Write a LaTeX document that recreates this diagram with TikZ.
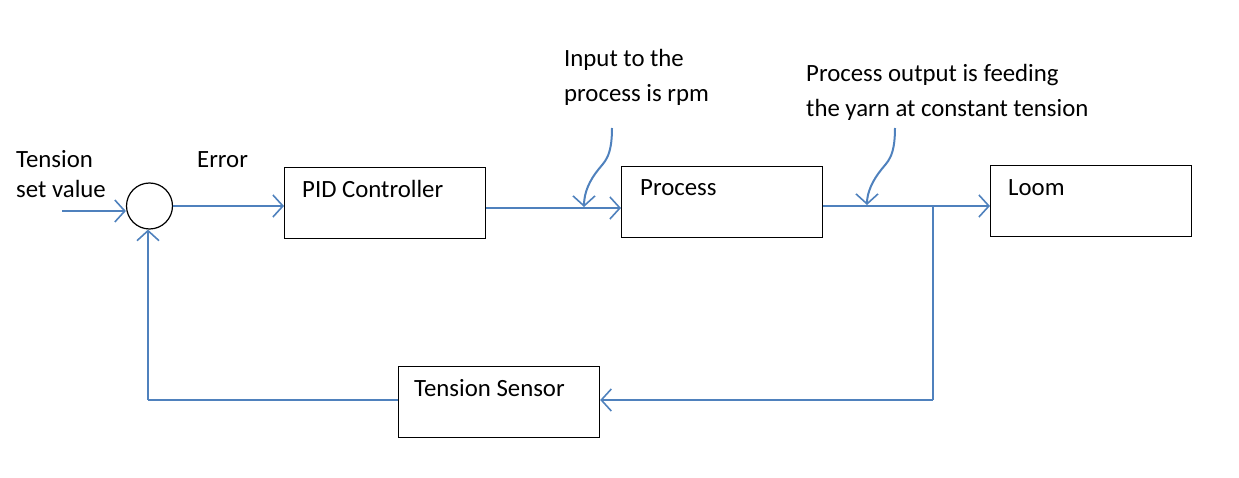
\documentclass[tikz,border=0pt]{standalone}
\usepackage{fontspec}
\setmainfont{Carlito}
\usetikzlibrary{arrows.meta}
\definecolor{lineblue}{HTML}{4F81BD}
\tikzset{
  blk/.style={draw=black, line width=1.2pt, minimum width=201pt, minimum height=71pt, inner sep=0pt},
  flow/.style={draw=lineblue, line width=2pt, -{Straight Barb[length=10pt,width=22pt,line width=1.6pt]}},
  plain/.style={draw=lineblue, line width=2pt},
  lbl/.style={anchor=base west, inner sep=0pt, font=\fontsize{24.8}{29}\selectfont},
}
\begin{document}
\begin{tikzpicture}[x=1pt,y=-1pt]
\useasboundingbox (0,0) rectangle (1239,478);
% blocks
\node[blk, anchor=north west] (pid) at (284,167) {};
\node[blk, anchor=north west] (proc) at (621,166) {};
\node[blk, anchor=north west] (loom) at (990,165) {};
\node[blk, anchor=north west] (sens) at (398,366) {};
\node[draw=black, line width=1.2pt, circle, minimum size=46pt, inner sep=0pt] (sum) at (149.5,206) {};
% block texts
\node[lbl] (tpid) at (302,198) {PID Controller};
\node[lbl] (tproc) at (640,196) {Process};
\node[lbl] (tloom) at (1008,196) {Loom};
\node[lbl] (tsens) at (414,396) {Tension Sensor};
% labels
\node[lbl] (t1) at (16,168) {Tension};
\node[lbl] (t2) at (16,198) {set value};
\node[lbl] (terr) at (197,168) {Error};
\node[lbl] (c1a) at (564,67) {Input to the};
\node[lbl] (c1b) at (564,102) {process is rpm};
\node[lbl] (c2a) at (806,82) {Process output is feeding};
\node[lbl] (c2b) at (806,117) {the yarn at constant tension};
% coordinates
\coordinate (inS) at (62,211);
\coordinate (br) at (933,206);
\coordinate (brd) at (933,400);
\coordinate (fbl) at (148,400);
\coordinate (k1s) at (612,128);
\coordinate (k1e) at (584,207);
\coordinate (k2s) at (895,128);
\coordinate (k2e) at (867,205);
% connectors
\draw[flow] (inS) -- (inS -| sum.west);
\draw[flow] (sum.east) -- (sum.east -| pid.west);
\draw[flow] (pid.east |- 0,208) -- (proc.west |- 0,208);
\draw[flow] (proc.east |- 0,206) -- (loom.west |- 0,206);
\draw[plain] (br) -- (brd);
\draw[flow] (brd) -- (brd -| sens.east);
\draw[plain] (sens.west |- fbl) -- (fbl);
\draw[flow] (fbl) -- (fbl |- sum.south);
% callouts
\draw[flow] (k1s) .. controls (612,158) and (604,162) .. (598,170) .. controls (590,180) and (584,192) .. (k1e);
\draw[flow] (k2s) .. controls (895,158) and (887,162) .. (881,170) .. controls (873,180) and (867,192) .. (k2e);
\end{tikzpicture}
\end{document}
